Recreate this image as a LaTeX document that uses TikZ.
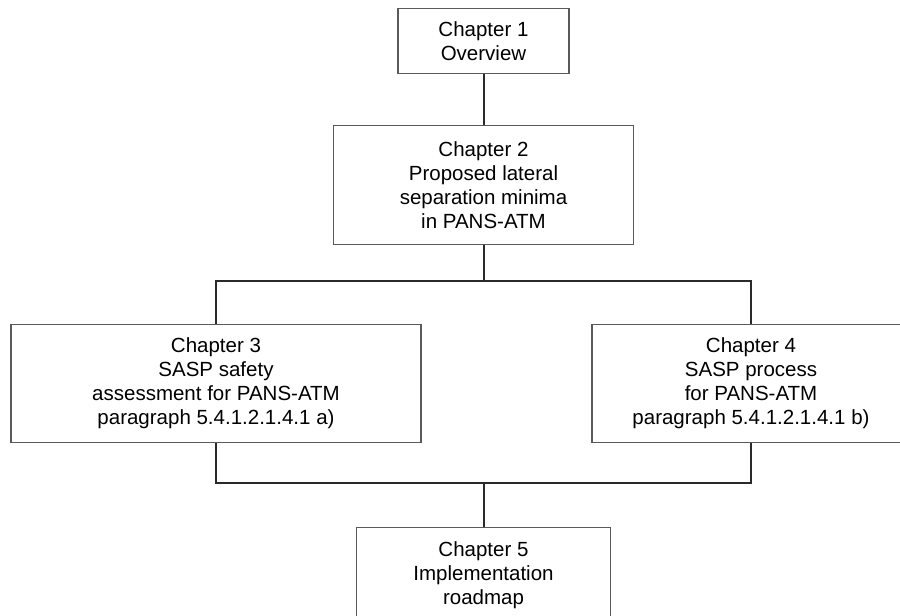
\documentclass[tikz,border=0pt]{standalone}
\usepackage{fontspec}
\setmainfont{Liberation Sans}
\usetikzlibrary{positioning}

\definecolor{boxline}{HTML}{5A5A5A}
\definecolor{wire}{HTML}{2A2A2A}

\begin{document}
\begin{tikzpicture}[
  x=1pt, y=-1pt,
  chapter/.style={rectangle, draw=boxline, line width=1.3pt, align=center, anchor=north,
    inner sep=0pt, font=\fontsize{20.5}{24}\selectfont},
  link/.style={draw=wire, line width=2pt}
]
\useasboundingbox (0,0) rectangle (900,616);
\clip (0,0) rectangle (900,616);

\node[chapter, minimum width=171pt, minimum height=65pt] (ch1) at (483.5,8) {Chapter 1\\Overview};
\node[chapter, minimum width=300pt, minimum height=119pt] (ch2) at (483.5,125) {Chapter 2\\Proposed lateral\\separation minima\\in PANS-ATM};
\node[chapter, minimum width=410pt, minimum height=118pt] (ch3) at (216,324) {Chapter 3\\SASP safety\\assessment for PANS-ATM\\paragraph 5.4.1.2.1.4.1 a)};
\node[chapter, minimum width=318pt, minimum height=118pt] (ch4) at (751,324) {Chapter 4\\SASP process\\for PANS-ATM\\paragraph 5.4.1.2.1.4.1 b)};
\node[chapter, minimum width=254pt, minimum height=95pt] (ch5) at (483.5,527) {Chapter 5\\Implementation\\roadmap};

% branch points
\coordinate (split) at (483.5,281);
\coordinate (join) at (483.5,483);

\draw[link] (ch1) -- (ch2);
\draw[link] (ch2) -- (split);
\draw[link] (ch3.north) |- (split) -| (ch4.north);
\draw[link] (ch3.south) |- (join) -| (ch4.south);
\draw[link] (join) -- (ch5);
\end{tikzpicture}
\end{document}
